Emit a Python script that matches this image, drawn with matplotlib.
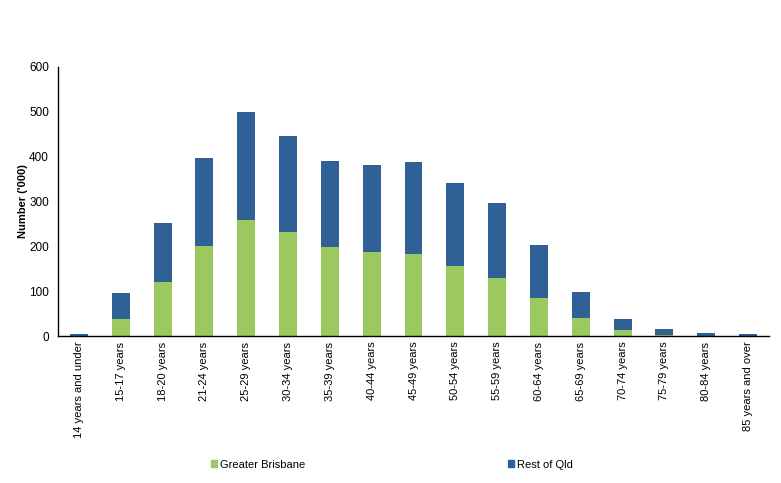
import matplotlib
matplotlib.use("Agg")
import matplotlib.pyplot as plt
from matplotlib.patches import Patch

categories = ["14 years and under", "15-17 years", "18-20 years", "21-24 years",
              "25-29 years", "30-34 years", "35-39 years", "40-44 years",
              "45-49 years", "50-54 years", "55-59 years", "60-64 years",
              "65-69 years", "70-74 years", "75-79 years", "80-84 years",
              "85 years and over"]
greater_brisbane = [1, 39, 121, 201, 259, 232, 199, 188, 183, 156, 129, 85, 40, 13, 2, 1, 0.5]
rest_of_qld_total = [5, 97, 252, 397, 500, 446, 390, 381, 388, 342, 297, 203, 98, 38, 16, 7, 5]
rest_of_qld = [t - g for t, g in zip(rest_of_qld_total, greater_brisbane)]
yticks = [0, 100, 200, 300, 400, 500, 600]

green = "#9BC960"
blue = "#2F6197"

plt.rcParams['font.family'] = ['Liberation Sans', 'DejaVu Sans']
fig = plt.figure(figsize=(7.81, 4.83), dpi=100)
ax = fig.add_axes([0.0743, 0.3043, 0.9103, 0.5570])

x = list(range(len(categories)))
ax.bar(x, greater_brisbane, width=0.43, color=green, label="Greater Brisbane")
ax.bar(x, rest_of_qld, width=0.43, bottom=greater_brisbane, color=blue, label="Rest of Qld")

ax.set_xlim(-0.5, len(categories) - 0.5)
ax.set_ylim(0, 600)
ax.set_yticks(yticks)
ax.set_yticklabels([str(v) for v in yticks], fontsize=8.5)
ax.set_xticks(x)
ax.set_xticklabels(categories, rotation=90, fontsize=8)
ax.tick_params(axis='both', length=0, pad=4)
ax.tick_params(axis='y', pad=6.5)
for s in ['top', 'right']:
    ax.spines[s].set_visible(False)
for s in ['left', 'bottom']:
    ax.spines[s].set_linewidth(1.0)
    ax.spines[s].set_color('black')
ax.set_ylabel("Number ('000)", fontsize=8, fontweight='bold', labelpad=1)

handles = [Patch(color=green, label="Greater Brisbane"), Patch(color=blue, label="Rest of Qld")]
fig.legend(handles=handles, loc='center', bbox_to_anchor=(0.502, 0.038), ncol=2,
           frameon=False, fontsize=8, handlelength=0.55, handleheight=0.55,
           handletextpad=0.3, columnspacing=18.2)

fig.savefig("out.png", dpi=100)
